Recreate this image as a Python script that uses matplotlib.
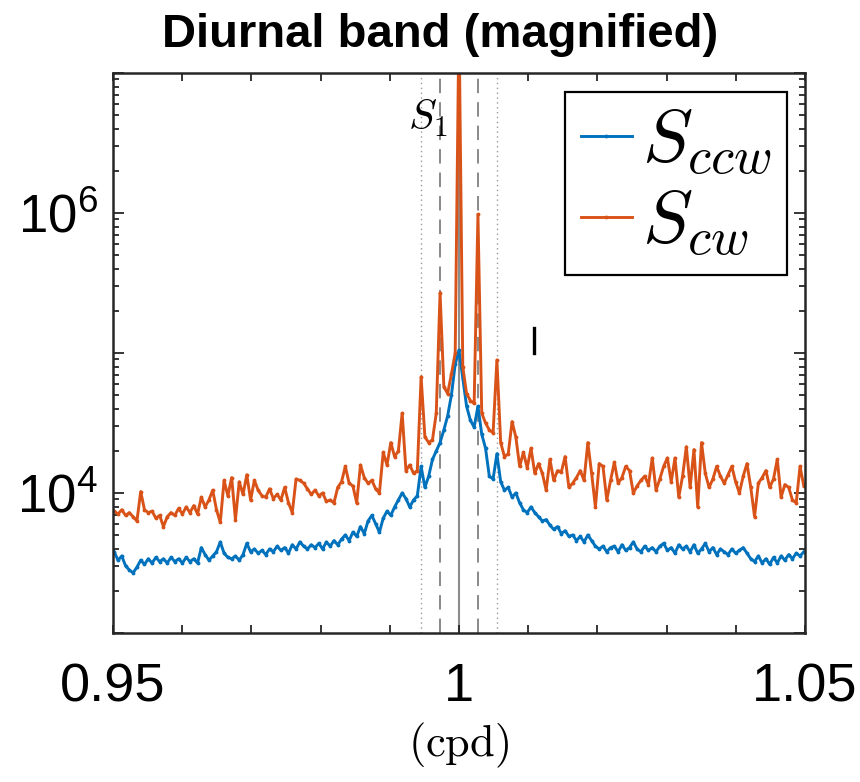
import numpy as np
import matplotlib
matplotlib.use("Agg")
import matplotlib.pyplot as plt
from matplotlib.ticker import FixedLocator, LogLocator, FuncFormatter, NullFormatter

plt.rcParams['font.family'] = ['Liberation Sans', 'DejaVu Sans']
plt.rcParams['mathtext.fontset'] = 'cm'
plt.rcParams['mathtext.rm'] = 'Liberation Sans'
plt.rcParams['mathtext.it'] = 'Liberation Sans:italic'

# frequency grid (cpd): 5-year record, bins k = -91..91 around 1 cpd
df = 1 / (5 * 365.25)
bins = np.arange(-91, 92)
freq = 1 + bins * df

# log10 of the rotary spectra
ccw_log10 = [
    3.58, 3.52, 3.55, 3.48, 3.45, 3.43, 3.47, 3.52, 3.49, 3.53,
    3.50, 3.54, 3.51, 3.53, 3.50, 3.54, 3.51, 3.53, 3.50, 3.54,
    3.51, 3.53, 3.50, 3.61, 3.56, 3.52, 3.55, 3.58, 3.65, 3.57,
    3.54, 3.53, 3.55, 3.52, 3.56, 3.64, 3.58, 3.60, 3.57, 3.59,
    3.56, 3.60, 3.58, 3.62, 3.59, 3.61, 3.57, 3.63, 3.60, 3.65,
    3.62, 3.60, 3.63, 3.61, 3.64, 3.60, 3.65, 3.62, 3.66, 3.63,
    3.67, 3.70, 3.66, 3.72, 3.69, 3.76, 3.71, 3.80, 3.84, 3.78,
    3.72, 3.82, 3.87, 3.84, 3.90, 3.95, 4.00, 3.96, 3.90, 3.95,
    3.98, 4.19, 4.04, 4.12, 4.24, 4.30, 4.36, 4.45, 4.55, 4.70,
    4.92, 5.02, 4.82, 4.62, 4.52, 4.47, 4.62, 4.42, 4.32, 4.12,
    4.10, 4.28, 4.08, 4.02, 4.04, 3.97, 4.00, 3.93, 3.88, 3.86,
    3.90, 3.86, 3.83, 3.80, 3.81, 3.77, 3.74, 3.76, 3.71, 3.73,
    3.69, 3.70, 3.66, 3.69, 3.65, 3.70, 3.66, 3.62, 3.60, 3.62,
    3.58, 3.61, 3.62, 3.58, 3.63, 3.59, 3.61, 3.65, 3.60, 3.58,
    3.62, 3.59, 3.61, 3.58, 3.62, 3.64, 3.59, 3.61, 3.57, 3.63,
    3.60, 3.62, 3.58, 3.63, 3.57, 3.60, 3.64, 3.58, 3.61, 3.56,
    3.60, 3.58, 3.56, 3.60, 3.57, 3.59, 3.61, 3.57, 3.53, 3.51,
    3.55, 3.50, 3.53, 3.49, 3.54, 3.50, 3.55, 3.52, 3.56, 3.53,
    3.57, 3.55, 3.58,
]
cw_log10 = [
    3.87, 3.85, 3.88, 3.84, 3.86, 3.83, 3.80, 4.01, 3.88, 3.86,
    3.87, 3.82, 3.84, 3.76, 3.83, 3.86, 3.84, 3.89, 3.85, 3.90,
    3.86, 3.91, 3.85, 3.97, 3.90, 3.95, 4.02, 3.88, 3.79, 4.09,
    3.98, 4.11, 3.81, 4.08, 3.99, 4.13, 3.95, 4.09, 4.02, 3.98,
    3.97, 4.03, 3.96, 3.99, 3.95, 4.04, 3.93, 3.86, 4.10, 4.09,
    4.07, 4.03, 3.99, 4.02, 3.98, 4.00, 3.94, 3.95, 3.93, 4.04,
    4.08, 4.19, 4.07, 4.05, 3.93, 4.20, 4.11, 4.07, 4.09, 4.03,
    4.00, 4.29, 4.20, 4.36, 4.26, 4.30, 4.57, 4.16, 4.20, 4.14,
    4.16, 4.83, 4.40, 4.36, 4.38, 4.57, 5.43, 4.76, 4.71, 4.85,
    5.00, 7.40, 4.90, 4.71, 4.66, 4.64, 5.99, 4.57, 4.50, 4.45,
    4.43, 4.95, 4.36, 4.26, 4.28, 4.51, 4.40, 4.19, 4.29, 4.18,
    4.32, 4.14, 4.21, 4.14, 4.02, 4.24, 4.09, 4.16, 4.15, 4.26,
    4.04, 4.07, 4.11, 4.16, 4.09, 4.36, 4.14, 3.90, 4.21, 4.19,
    3.95, 4.09, 4.22, 4.07, 4.11, 4.19, 4.16, 4.00, 4.05, 4.09,
    4.12, 4.06, 4.25, 4.02, 4.10, 4.19, 4.25, 4.08, 4.25, 3.97,
    4.12, 4.33, 4.04, 4.31, 3.90, 4.36, 4.14, 4.04, 4.10, 4.19,
    4.12, 4.07, 4.13, 4.19, 4.08, 4.00, 4.12, 4.21, 4.04, 3.83,
    4.07, 4.11, 4.16, 4.04, 4.10, 4.24, 3.97, 4.06, 4.04, 3.95,
    3.93, 4.19, 4.05,
]
if len(ccw_log10) != len(freq) or len(cw_log10) != len(freq):
    raise ValueError("length mismatch %d %d %d" % (len(ccw_log10), len(cw_log10), len(freq)))

# S1 and its annual sidelines (P1/K1, pi1/psi1)
s1_freq = 1.0
annual_sidelines = [1 - 1 / 365.25, 1 + 1 / 365.25]
semiannual_sidelines = [1 - 2 / 365.25, 1 + 2 / 365.25]

# confidence bar
ci_freq = 1.0109
ci_range = [1.0e5, 1.5e5]

xticks = [0.95, 0.96, 0.97, 0.98, 0.99, 1.00, 1.01, 1.02, 1.03, 1.04, 1.05]
xtick_labels = ['0.95', '', '', '', '', '1', '', '', '', '', '1.05']

blue = '#0072BD'
orange = '#D95319'

fig = plt.figure(figsize=(8.6, 7.82), dpi=100)
ax = fig.add_axes([113 / 860, 1 - 633 / 782, 692 / 860, 560 / 782])

ax.axvline(s1_freq, color='#8c8c8c', lw=1.5, zorder=1)
for f in annual_sidelines:
    ax.axvline(f, color='#808080', lw=1.3, ls=(0, (8, 5)), zorder=1)
for f in semiannual_sidelines:
    ax.axvline(f, color='#9a9a9a', lw=1.0, ls=(0, (1, 2.5)), zorder=1)

ax.plot(freq, 10 ** np.array(ccw_log10), color=blue, lw=2.1, marker='.', ms=3.5,
        label=r'$S_{ccw}$', zorder=2)
ax.plot(freq, 10 ** np.array(cw_log10), color=orange, lw=2.1, marker='.', ms=3.5,
        label=r'$S_{cw}$', zorder=2)

ax.plot([ci_freq, ci_freq], ci_range, color='black', lw=2.4, zorder=3)

ax.text(0.9984, 10 ** 6.59, r'$S_1$', fontsize=30, ha='right', va='baseline')

ax.set_yscale('log')
ax.set_xlim(0.95, 1.05)
ax.set_ylim(1e3, 1e7)

ax.set_xticks(xticks)
ax.set_xticklabels(xtick_labels)
ax.yaxis.set_major_locator(FixedLocator([1e3, 1e4, 1e5, 1e6, 1e7]))
ax.yaxis.set_minor_locator(LogLocator(base=10, subs=np.arange(2, 10), numticks=20))
ax.yaxis.set_minor_formatter(NullFormatter())
ax.yaxis.set_major_formatter(FuncFormatter(
    lambda v, p: r'$10^{%d}$' % round(np.log10(v)) if round(np.log10(v)) in (4, 6) else ''))

ax.tick_params(axis='both', which='both', direction='in', top=True, right=True,
               width=1.3, color='#262626')
ax.tick_params(axis='x', which='major', length=6, labelsize=39, pad=21)
ax.tick_params(axis='y', which='major', length=8, labelsize=38, pad=11)
ax.tick_params(axis='y', which='minor', length=4)
for t in ax.yaxis.get_major_ticks():
    t.label1.set_math_fontfamily('custom')

for s in ax.spines.values():
    s.set_linewidth(1.8)
    s.set_color('#262626')

ax.set_xlabel(r'$\mathrm{(cpd)}$', fontsize=32, labelpad=6)

leg = ax.legend(loc='upper right', bbox_to_anchor=(0.974, 0.966), fontsize=54,
                handlelength=0.68, handletextpad=0.13, borderpad=0.21,
                labelspacing=0.15, borderaxespad=0, fancybox=False,
                framealpha=1, edgecolor='black')
leg.get_frame().set_linewidth(1.6)

fig.text(440 / 860, 1 - 47 / 782, 'Diurnal band (magnified)', fontsize=34,
         fontweight='bold', ha='center', va='baseline')

fig.savefig('out.png', dpi=100)
